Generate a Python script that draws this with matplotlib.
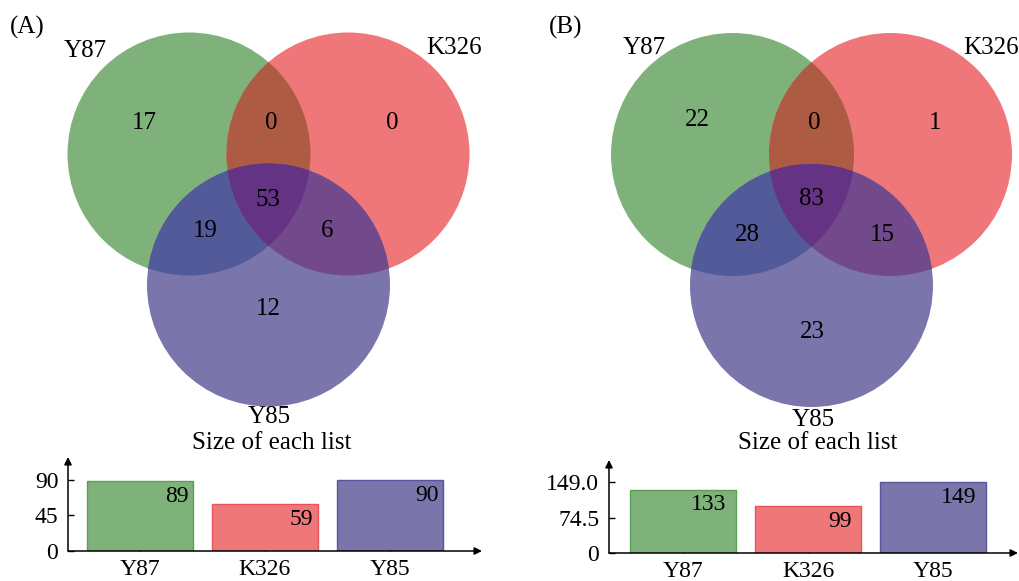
import numpy as np
import matplotlib
matplotlib.use("Agg")
import matplotlib.pyplot as plt
from matplotlib.patches import Circle, Polygon

plt.rcParams["font.family"] = ["Liberation Serif", "DejaVu Serif"]

# ---- data -------------------------------------------------------------
set_names = ["Y87", "K326", "Y85"]
# region order: Y87 only, Y87&K326, K326 only, Y87&Y85, all three, K326&Y85, Y85 only
region_counts_a = [17, 0, 0, 19, 53, 6, 12]
region_counts_b = [22, 0, 1, 28, 83, 15, 23]
list_sizes_a = [89, 59, 90]
list_sizes_b = [133, 99, 149]
yticks_a = [0, 45, 90]
ytick_labels_a = ["0", "45", "90"]
yticks_b = [0, 74.5, 149]
ytick_labels_b = ["0", "74.5", "149.0"]

# ---- styling ----------------------------------------------------------
c_only = ["#7eb27a", "#ef7779", "#7a75ab"]
c_edge = ["#5a9f55", "#e8545a", "#5a549c"]
c_gr = "#ad5b42"
c_gb = "#535a9a"
c_rb = "#724a8c"
c_all = "#653383"
R = 121.5

fig = plt.figure(figsize=(10.2, 5.81), dpi=100)
W, H = 1020, 581
vax = fig.add_axes([0, 0, 1, 1])
vax.set_xlim(0, W)
vax.set_ylim(H, 0)
vax.axis("off")


def lens(c1, c2, r, n=200):
    c1 = np.asarray(c1, float)
    c2 = np.asarray(c2, float)
    d = np.linalg.norm(c2 - c1)
    th0 = np.arctan2(*(c2 - c1)[::-1])
    phi = np.arccos(d / (2 * r))
    t1 = np.linspace(th0 - phi, th0 + phi, n)
    t2 = np.linspace(th0 + np.pi - phi, th0 + np.pi + phi, n)
    p1 = c1 + r * np.c_[np.cos(t1), np.sin(t1)]
    p2 = c2 + r * np.c_[np.cos(t2), np.sin(t2)]
    return np.vstack([p1, p2])


def venn3(ax, centers, counts, count_pos, name_pos, tag, tag_pos, title_pos):
    g, r, b = centers
    for c, col in zip(centers, c_only):
        ax.add_patch(Circle(c, R, facecolor=col, edgecolor="none", zorder=1))
    clip_g = Circle(g, R, facecolor="none", edgecolor="none")
    clip_r = Circle(r, R, facecolor="none", edgecolor="none")
    ax.add_patch(clip_g)
    ax.add_patch(clip_r)
    p = Circle(r, R, facecolor=c_gr, edgecolor="none", zorder=2)
    ax.add_patch(p)
    p.set_clip_path(clip_g)
    p = Circle(b, R, facecolor=c_gb, edgecolor="none", zorder=2)
    ax.add_patch(p)
    p.set_clip_path(clip_g)
    p = Circle(b, R, facecolor=c_rb, edgecolor="none", zorder=2)
    ax.add_patch(p)
    p.set_clip_path(clip_r)
    clip_b = Circle(b, R, facecolor="none", edgecolor="none")
    ax.add_patch(clip_b)
    p = Polygon(lens(g, r, R), closed=True, facecolor=c_all, edgecolor="none", zorder=3)
    ax.add_patch(p)
    p.set_clip_path(clip_b)
    for n, (x, y) in zip(counts, count_pos):
        ax.text(x, y, str(n), ha="center", va="center", fontsize=18, zorder=5)
    for s, (x, y) in zip(set_names, name_pos):
        ax.text(x, y, s, ha="center", va="center", fontsize=18, zorder=5)
    ax.text(*tag_pos, tag, ha="center", va="center", fontsize=18)
    ax.text(*title_pos, "Size of each list", ha="center", va="center", fontsize=18)


venn3(vax,
      [(189, 154), (348, 154), (268.5, 285)],
      region_counts_a,
      [(144, 123), (271, 123), (392, 123), (205, 231), (268, 200), (327, 231), (268, 309)],
      [(85, 51), (454, 48), (269, 417)],
      "(A)", (27, 27), (272, 443))
venn3(vax,
      [(732.5, 154.5), (890.5, 154.5), (811.5, 285.5)],
      region_counts_b,
      [(697, 120), (814, 123), (935, 123), (747, 235), (812, 199), (882, 235), (812, 332)],
      [(644, 48), (991, 48), (813, 420)],
      "(B)", (566, 27), (818, 443))


def bar_panel(px_left, px_right, px_bottom, px_top, xlim, ytop, sizes, yt, ytl, lab_dx):
    ax = fig.add_axes([px_left / W, (H - px_bottom) / H,
                       (px_right - px_left) / W, (px_bottom - px_top) / H])
    ax.set_facecolor("none")
    x = np.arange(len(sizes))
    ax.bar(x, sizes, width=0.85, color=c_only, edgecolor=c_edge, linewidth=1.0, zorder=2)
    for xi, v in zip(x, sizes):
        ax.annotate(str(v), (xi + lab_dx, v), xytext=(0, -11), textcoords="offset points",
                    ha="right", va="center", fontsize=17, zorder=4)
    ax.set_xlim(*xlim)
    ax.set_ylim(0, ytop)
    for sp in ax.spines.values():
        sp.set_visible(False)
    ax.annotate("", xy=(1, 0), xytext=(0, 0), xycoords="axes fraction",
                arrowprops=dict(arrowstyle="-|>", color="black", lw=1.1,
                                mutation_scale=11, shrinkA=0, shrinkB=0))
    ax.annotate("", xy=(0, 1), xytext=(0, 0), xycoords="axes fraction",
                arrowprops=dict(arrowstyle="-|>", color="black", lw=1.1,
                                mutation_scale=11, shrinkA=0, shrinkB=0))
    ax.set_xticks(x)
    ax.set_xticklabels(set_names, fontsize=17)
    ax.set_yticks(yt)
    ax.set_yticklabels(ytl, fontsize=17)
    ax.tick_params(direction="in", length=4, width=1, pad=6, zorder=5)
    ax.tick_params(axis="y", pad=7)
    return ax


bar_panel(68, 482, 551, 457, (-0.577, 2.74), 119.1, list_sizes_a,
          yticks_a, ytick_labels_a, 0.39)
bar_panel(609, 1018, 553, 460, (-0.592, 2.68), 195.2, list_sizes_b,
          yticks_b, ytick_labels_b, 0.35)

fig.savefig("out.png", dpi=100, facecolor="white")
